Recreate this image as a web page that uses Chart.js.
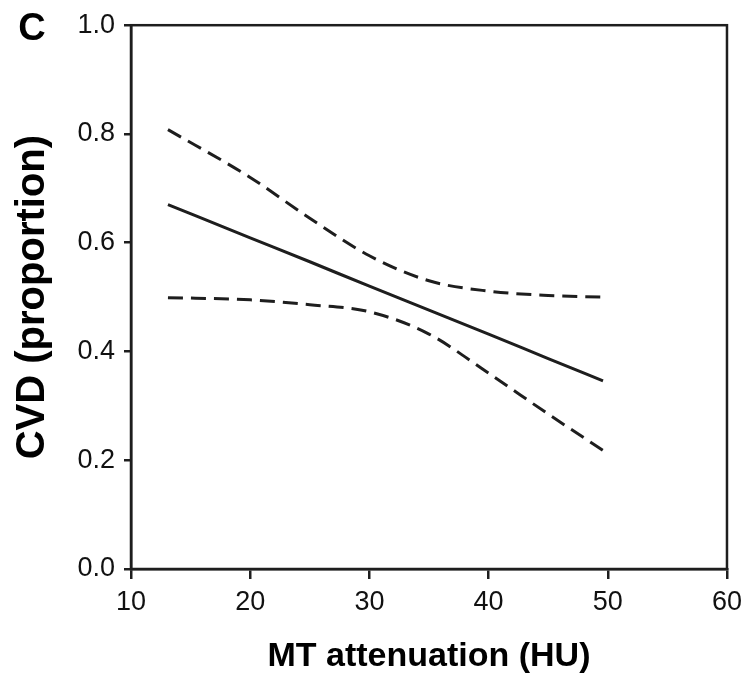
<!DOCTYPE html>
<html>
<head>
<meta charset="utf-8">
<script src="https://cdn.jsdelivr.net/npm/chart.js@4/dist/chart.umd.min.js"></script>
<style>
  body { margin: 0; background: #fff; }
  #wrap { width: 749px; height: 680px; }
</style>
</head>
<body>
<div id="wrap"><canvas id="cvd_chart" width="749" height="680"></canvas></div>
<script>
// values (x = MT attenuation in HU, y = CVD proportion)
const fit_x = [13.1, 20, 25, 30, 35, 40, 45, 49.6];
const fit_y = [0.670, 0.609, 0.565, 0.520, 0.476, 0.432, 0.387, 0.346];

const upper_x = [13.1, 20, 25, 30, 35, 40, 45, 49.6];
const upper_y = [0.808, 0.720, 0.645, 0.576, 0.530, 0.511, 0.503, 0.500];

const lower_x = [13.1, 20, 25, 30, 35, 40, 45, 49.6];
const lower_y = [0.499, 0.495, 0.486, 0.473, 0.432, 0.360, 0.285, 0.218];

const x_ticks = [10, 20, 30, 40, 50, 60];
const y_ticks = [0.0, 0.2, 0.4, 0.6, 0.8, 1.0];

const panel_label = 'C';
const x_title = 'MT attenuation (HU)';
const y_title = 'CVD (proportion)';

function toPoints(xs, ys) {
    return xs.map((x, i) => ({x: x, y: ys[i]}));
}

const ink = '#1e1e1e';
const fontFam = '"Liberation Sans", Arial, sans-serif';

// box round the plot area plus the panel letter
const framePlugin = {
    id: 'frame',
    afterDraw(chart) {
        const ctx = chart.ctx;
        const a = chart.chartArea;
        ctx.save();
        ctx.strokeStyle = ink;
        ctx.lineWidth = 2.5;
        ctx.strokeRect(a.left, a.top, a.right - a.left, a.bottom - a.top);
        ctx.fillStyle = '#000';
        ctx.font = 'bold 38px ' + fontFam;
        ctx.textAlign = 'center';
        ctx.textBaseline = 'middle';
        ctx.fillText(panel_label, 32, 30);
        ctx.restore();
    }
};

function lineSet(name, xs, ys, dashed) {
    return {
        label: name,
        data: toPoints(xs, ys),
        borderColor: ink,
        borderWidth: 3,
        borderDash: dashed ? [15, 8] : [],
        pointRadius: 0,
        fill: false,
        cubicInterpolationMode: 'monotone'
    };
}

const ctx = document.getElementById('cvd_chart').getContext('2d');
const myChart = new Chart(ctx, {
    type: 'line',
    data: {
        datasets: [
            lineSet('fit', fit_x, fit_y, false),
            lineSet('upper', upper_x, upper_y, true),
            lineSet('lower', lower_x, lower_y, true)
        ]
    },
    options: {
        responsive: false,
        animation: false,
        layout: {padding: {left: 0, top: 22, right: 22, bottom: 0}},
        plugins: {
            legend: {display: false},
            tooltip: {enabled: false}
        },
        scales: {
            x: {
                type: 'linear',
                min: 10,
                max: 60,
                afterBuildTicks: (scale) => { scale.ticks = x_ticks.map(v => ({value: v})); },
                afterFit: (scale) => { scale.height = 111; },
                grid: {display: true, drawOnChartArea: false, drawTicks: true, tickLength: 10, color: ink, lineWidth: 2.5},
                border: {display: true, color: ink, width: 2.5},
                ticks: {
                    color: '#111',
                    padding: 7,
                    maxRotation: 0,
                    font: {family: fontFam, size: 27}
                },
                title: {
                    display: true,
                    text: x_title,
                    color: '#000',
                    padding: {top: 3, bottom: 3},
                    font: {family: fontFam, size: 34, weight: 'bold'}
                }
            },
            y: {
                type: 'linear',
                min: 0,
                max: 1,
                afterBuildTicks: (scale) => { scale.ticks = y_ticks.map(v => ({value: v})); },
                afterFit: (scale) => { scale.width = 131; },
                grid: {display: true, drawOnChartArea: false, drawTicks: true, tickLength: 7, color: ink, lineWidth: 2.5},
                border: {display: true, color: ink, width: 2.5},
                ticks: {
                    color: '#111',
                    padding: 9,
                    font: {family: fontFam, size: 27},
                    callback: (v) => Number(v).toFixed(1)
                },
                title: {
                    display: true,
                    text: y_title,
                    color: '#000',
                    padding: {top: 9, bottom: 9},
                    font: {family: fontFam, size: 40, weight: 'bold'}
                }
            }
        }
    },
    plugins: [framePlugin]
});
</script>
</body>
</html>
